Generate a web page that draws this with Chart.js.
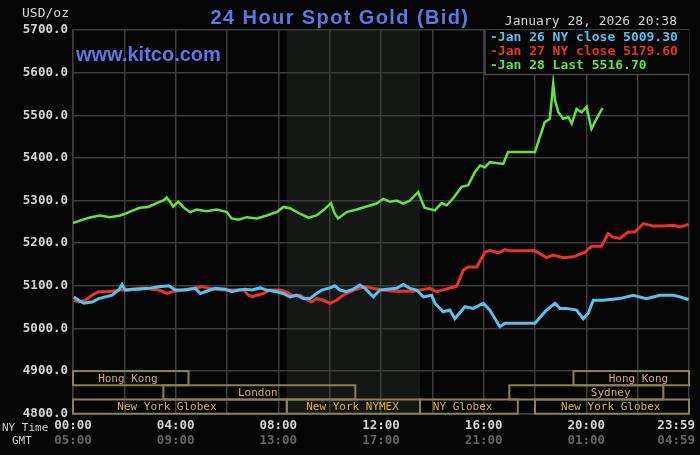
<!DOCTYPE html>
<html><head><meta charset="utf-8">
<script src="https://cdn.jsdelivr.net/npm/chart.js@4.4.1/dist/chart.umd.min.js"></script>
<style>html,body{margin:0;padding:0;background:#050505;overflow:hidden}</style>
</head><body>
<canvas id="c" width="700" height="455" style="display:block;width:700px;height:455px"></canvas>
<script>
// ---- data (hours in NY time, USD/oz) ----
const jan26Times = [0.03,0.22,0.42,0.74,1.0,1.26,1.52,1.78,1.91,2.04,2.3,2.56,2.95,3.34,3.73,3.99,4.38,4.77,4.96,5.15,5.54,5.93,6.19,6.45,6.71,6.97,7.29,7.55,7.94,8.19,8.45,8.71,8.97,9.23,9.49,9.69,10.01,10.2,10.4,10.66,10.92,11.18,11.38,11.7,11.96,12.22,12.61,12.87,13.13,13.39,13.65,13.97,14.1,14.42,14.68,14.88,15.27,15.6,15.99,16.24,16.63,16.83,18.0,18.45,18.78,18.97,19.23,19.62,19.88,20.07,20.27,20.66,21.3,21.82,22.34,22.86,23.39,23.65,23.98];
const jan26Values = [5074,5066,5059,5062,5070,5074,5078,5090,5103,5090,5092,5092,5094,5098,5100,5090,5090,5094,5082,5086,5094,5092,5086,5090,5092,5090,5095,5090,5086,5082,5074,5078,5070,5070,5082,5090,5095,5100,5090,5086,5092,5102,5094,5074,5090,5092,5094,5103,5094,5090,5074,5078,5059,5039,5043,5023,5051,5047,5059,5043,5004,5012,5012,5043,5059,5047,5047,5043,5023,5035,5066,5066,5070,5078,5070,5078,5078,5074,5068];

const jan27Times = [0.03,0.22,0.48,0.74,1.0,1.26,1.52,1.78,2.04,2.23,2.56,2.82,3.08,3.34,3.66,3.86,4.25,4.64,5.03,5.29,5.54,5.93,6.32,6.65,6.84,7.0,7.16,7.41,7.67,8.06,8.32,8.58,8.84,9.04,9.3,9.49,9.75,10.01,10.27,10.53,10.79,11.05,11.38,11.7,12.09,12.48,12.87,13.26,13.52,13.91,14.17,14.95,15.21,15.4,15.73,16.05,16.24,16.57,16.83,17.02,18.0,18.45,18.71,19.1,19.49,19.95,20.2,20.59,20.85,21.04,21.3,21.63,21.89,22.22,22.61,23.0,23.39,23.65,23.98];
const jan27Values = [5066,5062,5066,5078,5086,5086,5087,5090,5090,5090,5094,5095,5092,5090,5082,5086,5090,5094,5098,5094,5092,5090,5090,5090,5078,5074,5078,5082,5090,5090,5086,5076,5078,5070,5062,5070,5066,5059,5066,5078,5086,5092,5098,5094,5090,5087,5087,5087,5090,5094,5086,5099,5137,5144,5144,5179,5183,5177,5185,5182,5182,5166,5172,5166,5168,5179,5193,5193,5222,5214,5211,5226,5226,5246,5240,5240,5242,5238,5244];

const jan28Times = [0.0,0.27,0.66,1.05,1.44,1.83,2.03,2.35,2.6,2.93,3.26,3.52,3.65,3.78,3.9,4.1,4.36,4.56,4.82,5.2,5.6,5.99,6.18,6.44,6.77,7.16,7.55,7.94,8.2,8.45,8.84,9.17,9.49,9.75,10.05,10.2,10.33,10.66,11.05,11.44,11.83,12.09,12.35,12.61,12.87,13.13,13.45,13.58,13.7,14.1,14.36,14.56,14.82,15.14,15.4,15.66,15.86,16.05,16.24,16.76,16.95,18.0,18.19,18.38,18.58,18.71,18.78,18.91,19.1,19.3,19.43,19.62,19.82,20.01,20.07,20.2,20.4,20.63];
const jan28Values = [5247,5253,5260,5265,5261,5265,5269,5277,5283,5285,5294,5300,5307,5297,5286,5297,5281,5273,5279,5275,5279,5273,5258,5255,5261,5258,5265,5273,5285,5282,5269,5260,5265,5277,5294,5269,5258,5273,5279,5286,5293,5304,5297,5300,5293,5300,5320,5300,5283,5277,5294,5289,5306,5332,5336,5367,5382,5378,5390,5386,5414,5414,5449,5484,5492,5574,5535,5507,5492,5496,5480,5515,5507,5520,5503,5468,5492,5517];

const yMin = 4800, yMax = 5700, yStep = 100;
const gridHours = [0,2,4,6,8,10,12,14,16,18,20,22,24];
const labelHours = [0,4,8,12,16,20,24];
const nyLabels = ['00:00','04:00','08:00','12:00','16:00','20:00','23:59'];
const gmtLabels = ['05:00','09:00','13:00','17:00','21:00','01:00','04:59'];

const legendTexts = ['-Jan 26 NY close 5009.30','-Jan 27 NY close 5179.60','-Jan 28 Last 5516.70'];
const dateText = 'January 28, 2026 20:38';

const bandLabels  = ['Hong Kong','London','New York Globex','New York NYMEX','NY Globex','New York Globex','Hong Kong','Sydney'];
const bandStart   = [0,    3.52, 0,    8.33, 13.52, 18.0, 19.5, 17.0];
const bandEnd     = [4.5,  11.0, 8.33, 13.52,17.33, 24,   24,   23.0];
const bandRow     = [0,    1,    2,    2,    2,     2,    0,    1];
const bandLabelAt = [2.14, 7.2,  3.66, 10.89,15.18, 20.95,22.03,20.95];
const nymexStart = 8.33, nymexEnd = 13.52;

// ---- colours ----
const BLUE='#57c1f0', RED='#ea3226', GREEN='#62e43c';
const GRID='#3d3d3d';
const W=700, H=455;

function pts(ts, vs){ return ts.map((t,i)=>({x:t, y:vs[i]})); }

const deco = {
  id:'deco',
  beforeDraw(chart){
    const {ctx, chartArea:a, scales:{x}} = chart;
    ctx.save();
    ctx.fillStyle='#050505'; ctx.fillRect(0,0,W,H);
    const x0=x.getPixelForValue(nymexStart), x1=x.getPixelForValue(nymexEnd);
    ctx.fillStyle='#151715'; ctx.fillRect(x0,a.top,x1-x0,a.bottom-a.top);
    ctx.restore();
  },
  afterDraw(chart){
    const {ctx, chartArea:a, scales:{x,y}} = chart;
    ctx.save();
    // session bands
    ctx.lineWidth=2; ctx.strokeStyle='#8a8350';
    ctx.font='11px "DejaVu Sans Mono"'; ctx.fillStyle='#d8b43c';
    ctx.textAlign='center'; ctx.textBaseline='middle';
    const rowH = yStep/3;
    for(let i=0;i<bandLabels.length;i++){
      const x0=x.getPixelForValue(bandStart[i]), x1=x.getPixelForValue(bandEnd[i]);
      const yt=y.getPixelForValue(4900-bandRow[i]*rowH), yb=y.getPixelForValue(4900-(bandRow[i]+1)*rowH);
      ctx.strokeRect(x0, yt, x1-x0, yb-yt);
    }
    for(let i=0;i<bandLabels.length;i++){
      const yt=y.getPixelForValue(4900-bandRow[i]*rowH), yb=y.getPixelForValue(4900-(bandRow[i]+1)*rowH);
      ctx.fillText(bandLabels[i], x.getPixelForValue(bandLabelAt[i]), (yt+yb)/2+0.5);
    }
    // legend box
    const lx=a.right-204, ly=a.top, lh=44.5;
    ctx.fillStyle='#050505'; ctx.fillRect(lx, ly, a.right-lx, lh);
    ctx.strokeStyle='#4a4a4a'; ctx.lineWidth=1.5;
    ctx.beginPath(); ctx.moveTo(lx, ly); ctx.lineTo(lx, ly+lh); ctx.lineTo(a.right, ly+lh); ctx.stroke();
    ctx.font='bold 13px "DejaVu Sans Mono"'; ctx.textAlign='left'; ctx.textBaseline='middle';
    const cols=[BLUE,RED,GREEN];
    legendTexts.forEach((t,i)=>{ ctx.fillStyle=cols[i]; ctx.fillText(t, lx+5, ly+7.5+i*14.2); });
    // date
    ctx.font='13px "DejaVu Sans Mono"'; ctx.fillStyle='#d6d6d6'; ctx.textAlign='right';
    ctx.fillText(dateText, 677, 22);
    // title + site
    ctx.fillStyle='#5b78e8'; ctx.textBaseline='alphabetic';
    ctx.font='bold 20px "Liberation Sans"';
    ctx.textAlign='center'; ctx.letterSpacing='1.4px';
    ctx.fillText('24 Hour Spot Gold (Bid)', 340, 23.5);
    ctx.letterSpacing='0px';
    ctx.textAlign='left';
    ctx.fillText('www.kitco.com', 76, 61);
    // USD/oz
    ctx.font='13px "DejaVu Sans Mono"'; ctx.fillStyle='#d6d6d6'; ctx.textBaseline='middle';
    ctx.fillText('USD/oz', 22, 14);
    // x labels
    ctx.font='bold 12.5px "DejaVu Sans Mono"';
    labelHours.forEach((h,i)=>{
      let px=x.getPixelForValue(h);
      const w=ctx.measureText(nyLabels[i]).width;
      px=Math.min(px, W-5-w/2);
      ctx.textAlign='center';
      ctx.fillStyle='#d6d6d6'; ctx.fillText(nyLabels[i], px, 426);
      ctx.fillStyle='#666666'; ctx.fillText(gmtLabels[i], px, 441);
    });
    ctx.font='11px "DejaVu Sans Mono"'; ctx.fillStyle='#cfcfcf'; ctx.textAlign='left';
    ctx.fillText('NY Time', 2, 428);
    ctx.fillText('GMT', 12, 441);
    ctx.restore();
  }
};

new Chart(document.getElementById('c'), {
  type:'line',
  data:{ datasets:[
    {data:pts(jan26Times,jan26Values), borderColor:BLUE, borderWidth:3, pointRadius:0, tension:0},
    {data:pts(jan27Times,jan27Values), borderColor:RED, borderWidth:3, pointRadius:0, tension:0},
    {data:pts(jan28Times,jan28Values), borderColor:GREEN, borderWidth:2.5, pointRadius:0, tension:0}
  ]},
  options:{
    responsive:false, animation:false, devicePixelRatio:1,
    layout:{padding:{top:30, right:11, bottom:0, left:0}},
    plugins:{legend:{display:false}, tooltip:{enabled:false}, title:{display:false}},
    scales:{
      x:{type:'linear', min:0, max:24,
         afterBuildTicks:s=>{ s.ticks=gridHours.map(v=>({value:v})); },
         afterFit:s=>{ s.height=41.3; },
         ticks:{display:false},
         grid:{color:GRID, lineWidth:1.5, drawTicks:false},
         border:{color:GRID, width:1.5}},
      y:{type:'linear', min:yMin, max:yMax,
         afterBuildTicks:s=>{ const t=[]; for(let v=yMin; v<=yMax; v+=yStep) t.push({value:v}); s.ticks=t; },
         afterFit:s=>{ s.width=73; },
         ticks:{color:'#d6d6d6', padding:5, font:{family:'DejaVu Sans Mono', size:12.5, weight:'bold'}, callback:v=>Number(v).toFixed(1)},
         grid:{color:GRID, lineWidth:1.5, drawTicks:false},
         border:{color:GRID, width:1.5}}
    }
  },
  plugins:[deco]
});
</script>
</body></html>
